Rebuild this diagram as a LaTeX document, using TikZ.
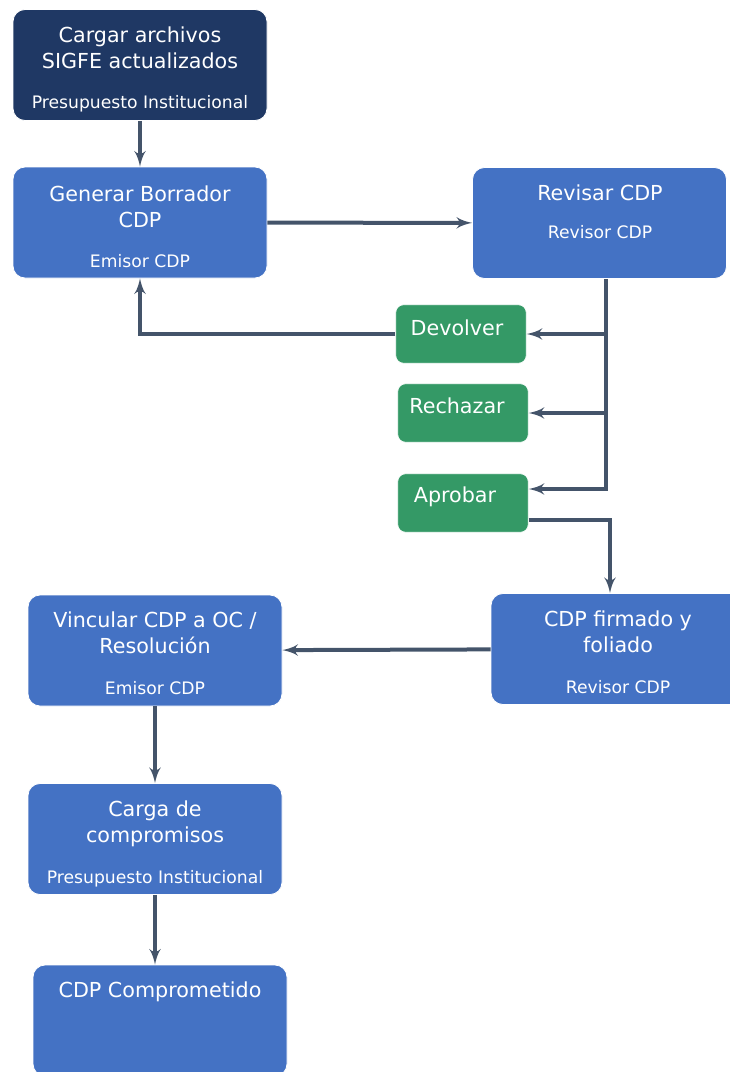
\documentclass[tikz,border=0pt]{standalone}
\usepackage{fontspec}
\setmainfont{DejaVu Sans}
\usetikzlibrary{arrows}
\definecolor{boxblue}{RGB}{68,114,196}
\definecolor{boxnavy}{RGB}{31,56,100}
\definecolor{boxgreen}{RGB}{52,153,102}
\definecolor{linkgray}{RGB}{68,84,106}
\tikzset{
    stepbox/.style={rectangle, rounded corners=9pt, draw=white, line width=0.6pt, fill=boxblue, minimum width=190.5pt, minimum height=83.25pt, inner sep=0pt},
    startbox/.style={stepbox, fill=boxnavy},
    choice/.style={stepbox, fill=boxgreen, minimum width=98pt, minimum height=44pt, rounded corners=6pt},
    title/.style={anchor=base, text=white, inner sep=0pt, font=\fontsize{15.5}{19.5}\selectfont, align=center},
    role/.style={anchor=base, text=white, inner sep=0pt, font=\fontsize{12.9}{15}\selectfont},
    flow/.style={->, > = latex', draw=linkgray, line width=3pt},
}
\begin{document}
\begin{tikzpicture}[x=0.75pt,y=-0.75pt]
\useasboundingbox (0,0) rectangle (730,1072);
\node[startbox] (cargar) at (140,65) {};
\node[stepbox] (generar) at (140,222.5) {};
\node[stepbox] (revisar) at (599.5,223) {};
\node[choice] (devolver) at (461,334) {};
\node[choice] (rechazar) at (463,413) {};
\node[choice] (aprobar) at (463,503) {};
\node[stepbox] (firmado) at (618,649) {};
\node[stepbox] (vincular) at (155,650.5) {};
\node[stepbox] (carga) at (155,839) {};
\node[stepbox] (comprometido) at (160,1020.5) {};
\node[title] (cargar-t) at (140,68) {Cargar archivos\\SIGFE actualizados};
\node[role] (cargar-r) at (140,108) {Presupuesto Institucional};
\node[title] (generar-t) at (140,227) {Generar Borrador\\CDP};
\node[role] (generar-r) at (140,267) {Emisor CDP};
\node[title] (revisar-t) at (600,200) {Revisar CDP};
\node[role] (revisar-r) at (600,238) {Revisor CDP};
\node[title] (devolver-t) at (457,335) {Devolver};
\node[title] (rechazar-t) at (457,413) {Rechazar};
\node[title] (aprobar-t) at (455,502) {Aprobar};
\node[title] (firmado-t) at (618,652) {CDP firmado y\\foliado};
\node[role] (firmado-r) at (618,693) {Revisor CDP};
\node[title] (vincular-t) at (155,653) {Vincular CDP a OC /\\Resolución};
\node[role] (vincular-r) at (155,694) {Emisor CDP};
\node[title] (carga-t) at (155,842) {Carga de\\compromisos};
\node[role] (carga-r) at (155,883) {Presupuesto Institucional};
\node[title] (comprometido-t) at (160,997) {CDP Comprometido};
\coordinate (tr) at (606,489);
\draw[flow] (cargar) -- (generar);
\draw[flow] (generar) -- (revisar);
\draw[flow] (revisar.south -| tr) -- (tr) -- (tr -| aprobar.east);
\draw[flow] (tr |- devolver.east) -- (devolver.east);
\draw[flow] (tr |- rechazar.east) -- (rechazar.east);
\draw[flow] (devolver.west) -| (generar.south);
\draw[flow] ([yshift=-12.75pt]aprobar.east) -| ([xshift=-6pt]firmado.north);
\draw[flow] (firmado) -- (vincular);
\draw[flow] (vincular) -- (carga);
\draw[flow] (carga.south) -- (carga.south |- comprometido.north);
\end{tikzpicture}
\end{document}
